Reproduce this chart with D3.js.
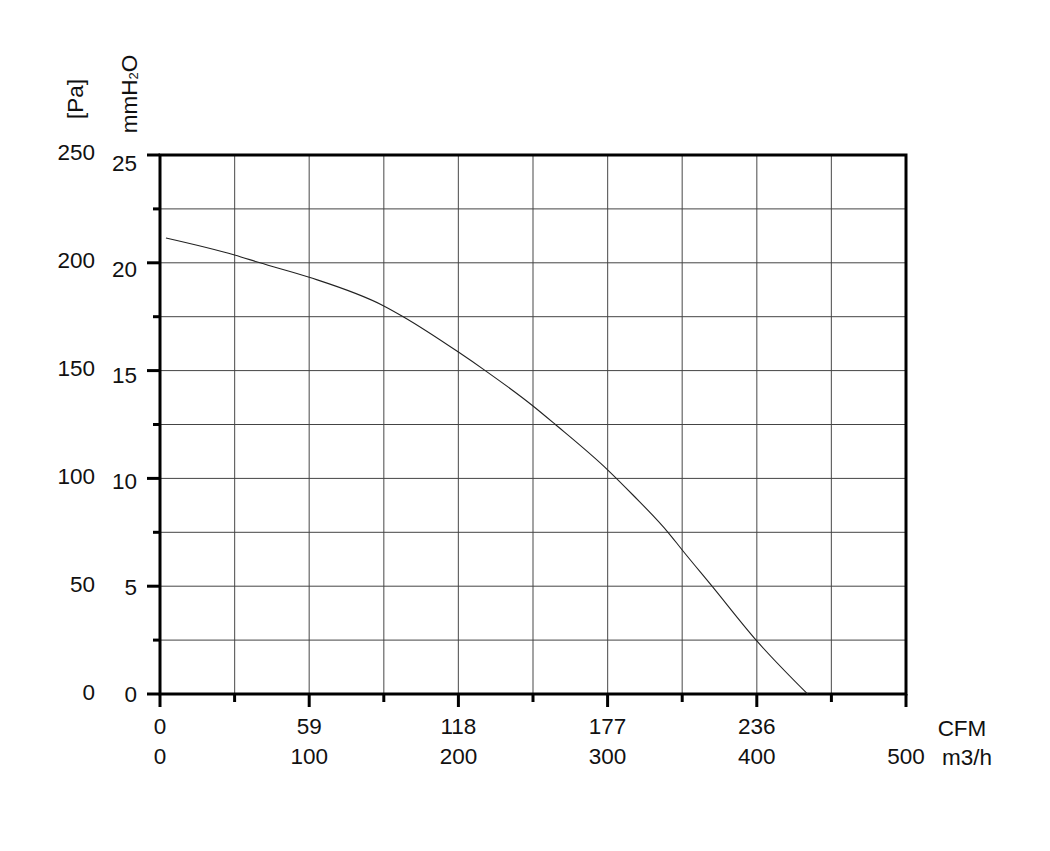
<!DOCTYPE html>
<html><head><meta charset="utf-8">
<script src="https://cdn.jsdelivr.net/npm/d3@7"></script>
<style>body{margin:0;background:#fff}svg{display:block}text{font-family:"Liberation Sans",Arial,sans-serif;fill:#111}</style>
</head><body><svg id="c" width="1050" height="851"></svg>
<script>
// data: airflow in m3/h, pressure in Pa
const flowM3h = [4, 50, 67, 100, 150, 163, 200, 218, 250, 265, 300, 317, 340.5, 350, 370, 400, 434];
const pressurePa = [211.5, 203.6, 200, 193.3, 180, 175, 158.6, 150, 133.6, 125, 104, 92.3, 75, 66.8, 50, 24.6, 0];
const m3hTicks = [0, 100, 200, 300, 400, 500];
const cfmTicks = ["0", "59", "118", "177", "236"];
const paTicks = [0, 50, 100, 150, 200, 250];
const mmTicks = [0, 5, 10, 15, 20, 25];

const svg = d3.select("#c");
const L = 160, R = 906, T = 155, B = 694;
const x = d3.scaleLinear().domain([0, 500]).range([L, R]);
const y = d3.scaleLinear().domain([0, 250]).range([B, T]);
const yPaLab = d3.scaleLinear().domain([0, 250]).range([692, 152]);
const yMmLab = d3.scaleLinear().domain([0, 25]).range([694, 163]);

// grid
const g = svg.append("g");
d3.range(50, 500, 50).forEach(v => {
  g.append("line").attr("x1", x(v)).attr("x2", x(v)).attr("y1", T).attr("y2", B)
    .attr("stroke", "#666").attr("stroke-width", 1.2);
});
d3.range(25, 250, 25).forEach(v => {
  g.append("line").attr("x1", L).attr("x2", R).attr("y1", y(v)).attr("y2", y(v))
    .attr("stroke", "#444").attr("stroke-width", 1);
});

// ticks
d3.range(0, 251, 25).forEach(v => {
  const major = v % 50 === 0;
  g.append("line").attr("x1", major ? L - 13 : L - 7).attr("x2", L).attr("y1", y(v)).attr("y2", y(v))
    .attr("stroke", "#000").attr("stroke-width", 3);
});
d3.range(0, 501, 50).forEach(v => {
  const major = v % 100 === 0;
  g.append("line").attr("x1", x(v)).attr("x2", x(v)).attr("y1", B).attr("y2", major ? B + 13 : B + 8)
    .attr("stroke", "#000").attr("stroke-width", 3);
});

// frame
g.append("rect").attr("x", L).attr("y", T).attr("width", R - L).attr("height", B - T)
  .attr("fill", "none").attr("stroke", "#000").attr("stroke-width", 3);

// curve
const line = d3.line().x((d, i) => x(flowM3h[i])).y((d, i) => y(pressurePa[i])).curve(d3.curveMonotoneX);
svg.append("path").attr("d", line(flowM3h)).attr("fill", "none").attr("stroke", "#222").attr("stroke-width", 1.1);

// labels
const fs = 22.5;
paTicks.forEach(v => svg.append("text").attr("x", 95).attr("y", yPaLab(v)).attr("text-anchor", "end")
  .attr("dominant-baseline", "central").attr("font-size", fs).text(v));
mmTicks.forEach(v => svg.append("text").attr("x", 137).attr("y", yMmLab(v)).attr("text-anchor", "end")
  .attr("dominant-baseline", "central").attr("font-size", fs).text(v));
cfmTicks.forEach((t, i) => svg.append("text").attr("x", x(m3hTicks[i])).attr("y", 726).attr("text-anchor", "middle")
  .attr("dominant-baseline", "central").attr("font-size", fs).text(t));
m3hTicks.forEach(v => svg.append("text").attr("x", x(v)).attr("y", 756).attr("text-anchor", "middle")
  .attr("dominant-baseline", "central").attr("font-size", fs).text(v));
svg.append("text").attr("x", 962).attr("y", 728).attr("text-anchor", "middle")
  .attr("dominant-baseline", "central").attr("font-size", fs).text("CFM");
svg.append("text").attr("x", 967).attr("y", 757).attr("text-anchor", "middle")
  .attr("dominant-baseline", "central").attr("font-size", fs).text("m3/h");

svg.append("text").attr("transform", "translate(75,99) rotate(-90)").attr("text-anchor", "middle")
  .attr("dominant-baseline", "central").attr("font-size", fs).text("[Pa]");
const mm = svg.append("text").attr("transform", "translate(129,94) rotate(-90)").attr("text-anchor", "middle")
  .attr("dominant-baseline", "central").attr("font-size", fs);
mm.append("tspan").text("mmH");
mm.append("tspan").attr("font-size", 13).attr("dy", 4).text("2");
mm.append("tspan").attr("dy", -4).text("O");
</script></body></html>
